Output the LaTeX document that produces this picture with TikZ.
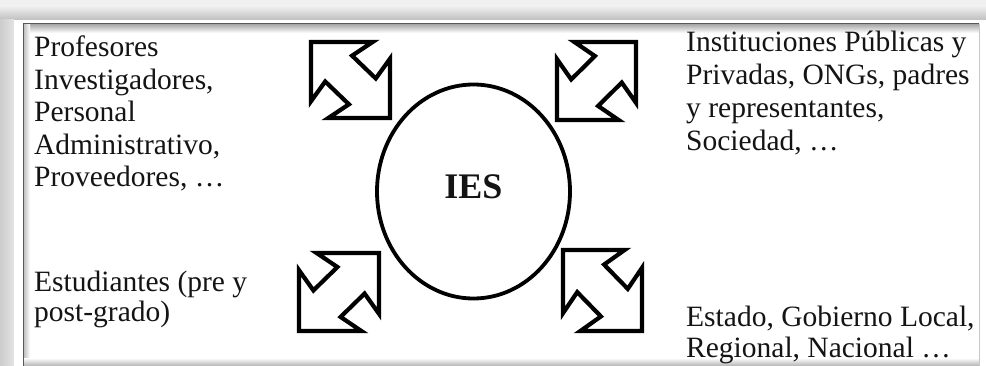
\documentclass[tikz,border=0pt]{standalone}
\usepackage{fontspec}
\setmainfont{Liberation Serif}
\usetikzlibrary{shapes.geometric}
\begin{document}
\begin{tikzpicture}[x=1pt,y=-1pt,
  lbl/.style={anchor=base west, align=left, inner sep=0pt, text=black!92},
  dbl/.style={draw=black, line width=4.2pt, line join=miter, fill=white},
  dblarrow/.pic={\draw[dbl] (0,0) -- (0.78,0) -- (0.52,0.18) -- (0.82,0.48) -- (1,0.22)
     -- (1,1) -- (0.22,1) -- (0.48,0.82) -- (0.18,0.52) -- (0,0.78) -- cycle;},
]
\useasboundingbox (0,0) rectangle (986,366);
% frame and shadows
\fill[gray!12] (0,0) rectangle (986,366);
\shade[top color=gray!12, bottom color=gray!50] (0,6) rectangle (986,20);
\shade[left color=gray!40, right color=gray!22] (0,20) rectangle (14,366);
\fill[white] (14,20) rectangle (986,366);
\fill[white] (23,24) rectangle (979,366);
\shade[top color=gray!70, bottom color=white] (23,24) rectangle (979,33);
\shade[left color=gray!55, right color=white] (23,24) rectangle (30,366);
\shade[top color=white, bottom color=gray!60] (23,358) rectangle (979,366);
\draw[black!65, line width=1pt] (23,366) -- (23,24) -- (979,24);
\draw[gray!45, line width=0.8pt] (979,24) -- (979,366);

% arrows
\pic (tl) [shift={(311,42)}, xscale=79, yscale=76] {dblarrow};
\pic (tr) [shift={(636,42)}, xscale=-79, yscale=78] {dblarrow};
\pic (bl) [shift={(379,253)}, xscale=-80, yscale=78] {dblarrow};
\pic (br) [shift={(563,250)}, xscale=79, yscale=81] {dblarrow};

% central ellipse
\node[ellipse, draw=black, line width=3.8pt, minimum width=193pt, minimum height=214pt,
  inner sep=0pt, text depth=9pt, font=\fontsize{36}{40}\selectfont\bfseries, text=black!92]
  (ies) at (473.5,191.5) {IES};

% texts (anchor = baseline of the last line)
\node[lbl, font=\fontsize{29.5}{32.5}\selectfont] (prof) at (34,187)
  {Profesores\\Investigadores,\\Personal\\Administrativo,\\Proveedores, \dots};
\node[lbl, font=\fontsize{29.5}{33}\selectfont] (inst) at (686,151)
  {Instituciones Públicas y\\Privadas, ONGs, padres\\y representantes,\\Sociedad, \dots};
\node[lbl, font=\fontsize{29.5}{29}\selectfont] (est) at (34,321)
  {Estudiantes (pre y\\post-grado)};
\node[lbl, font=\fontsize{29.5}{31}\selectfont] (gob) at (686,357)
  {Estado, Gobierno Local,\\Regional, Nacional \dots};
\end{tikzpicture}
\end{document}
